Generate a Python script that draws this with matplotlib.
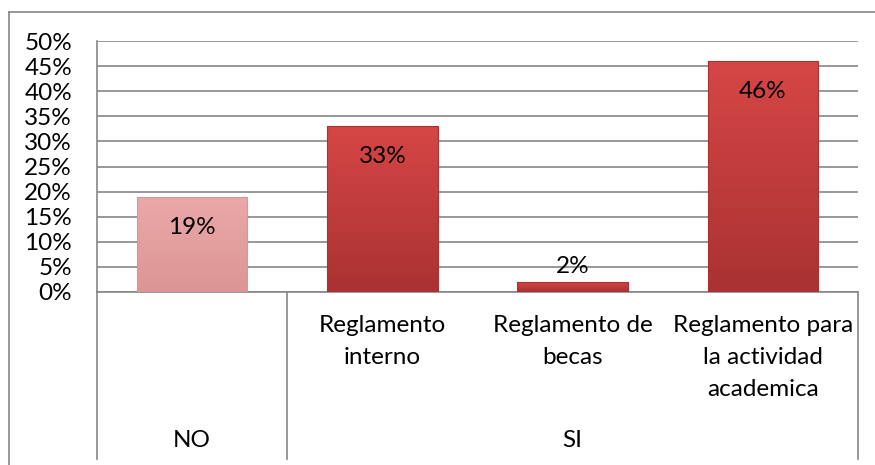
import numpy as np
import matplotlib
matplotlib.use("Agg")
import matplotlib.pyplot as plt
from matplotlib.colors import LinearSegmentedColormap
from matplotlib.lines import Line2D

plt.rcParams['font.family'] = ['Lato', 'DejaVu Sans']
plt.rcParams['font.size'] = 17.5

# data
groups = ["NO", "SI"]
group_sizes = [1, 3]
categories = ["", "Reglamento\ninterno", "Reglamento de\nbecas", "Reglamento para\nla actividad\nacademica"]
values = [19, 33, 2, 46]
bar_colors = [("#EBA8A8", "#DC9595"), ("#D64646", "#AA3232"), ("#D64646", "#AA3232"), ("#D64646", "#AA3232")]
yticks = [0, 5, 10, 15, 20, 25, 30, 35, 40, 45, 50]

fig = plt.figure(figsize=(8.75, 4.65), dpi=100)
ax = fig.add_axes([97 / 875, 1 - 292 / 465, (858 - 97) / 875, (292 - 41) / 465])

x = np.arange(len(values))
bars = ax.bar(x, values, width=0.58, color="none", edgecolor="none", zorder=3)

# vertical gradient in each bar, clipped to the bar
for b, (c_top, c_bot) in zip(bars, bar_colors):
    cmap = LinearSegmentedColormap.from_list("g", [c_bot, c_top])
    grad = np.linspace(0, 1, 100).reshape(-1, 1)
    x0, y0, w, h = b.get_x(), b.get_y(), b.get_width(), b.get_height()
    im = ax.imshow(grad, cmap=cmap, origin="lower", aspect="auto",
                   extent=[x0, x0 + w, y0, y0 + h], zorder=3)
    im.set_clip_path(b)
    ax.add_patch(plt.Rectangle((x0, y0), w, h, fill=False, edgecolor=c_bot, lw=0.8, zorder=4))

# data labels
for xi, v in zip(x, values):
    if v < 5:
        ax.annotate(f"{v}%", (xi, v), xytext=(0, 11), textcoords="offset points",
                    ha="center", va="center", zorder=5)
    else:
        ax.annotate(f"{v}%", (xi, v), xytext=(0, -22), textcoords="offset points",
                    ha="center", va="center", zorder=5)

ax.set_xlim(-0.5, len(values) - 0.5)
ax.set_ylim(0, 50)
ax.set_yticks(yticks)
ax.set_yticklabels([f"{t}%" for t in yticks])
ax.tick_params(axis="y", length=0, pad=18)
ax.set_xticks([])
ax.grid(axis="y", color="#868686", lw=1.2, zorder=0)
ax.set_axisbelow(True)
for s in ["top", "right"]:
    ax.spines[s].set_visible(False)
ax.spines["left"].set_color("#868686")
ax.spines["bottom"].set_color("#868686")
ax.spines["left"].set_linewidth(1.2)
ax.spines["bottom"].set_linewidth(1.2)

# multi-level category axis
trans = ax.get_xaxis_transform()
line_bottom = -(459 - 292) / 251
for xi, lab in zip(x, categories):
    ax.text(xi, -0.092, lab, transform=trans, ha="center", va="top", linespacing=1.63)
bounds = np.concatenate([[0], np.cumsum(group_sizes)]) - 0.5
for bx in bounds:
    ax.add_line(Line2D([bx, bx], [0, line_bottom], transform=trans, color="#868686",
                       lw=1.2, clip_on=False))
for g, lo, hi in zip(groups, bounds[:-1], bounds[1:]):
    ax.text((lo + hi) / 2, -(440 - 292) / 251, g, transform=trans, ha="center", va="center")

# outer chart border
fig.add_artist(Line2D([9 / 875, 9 / 875], [0, 1 - 12 / 465], transform=fig.transFigure,
                      color="#868686", lw=1.2))
fig.add_artist(Line2D([9 / 875, 1], [1 - 12 / 465, 1 - 12 / 465], transform=fig.transFigure,
                      color="#868686", lw=1.2))

fig.savefig("out.png", dpi=100)
